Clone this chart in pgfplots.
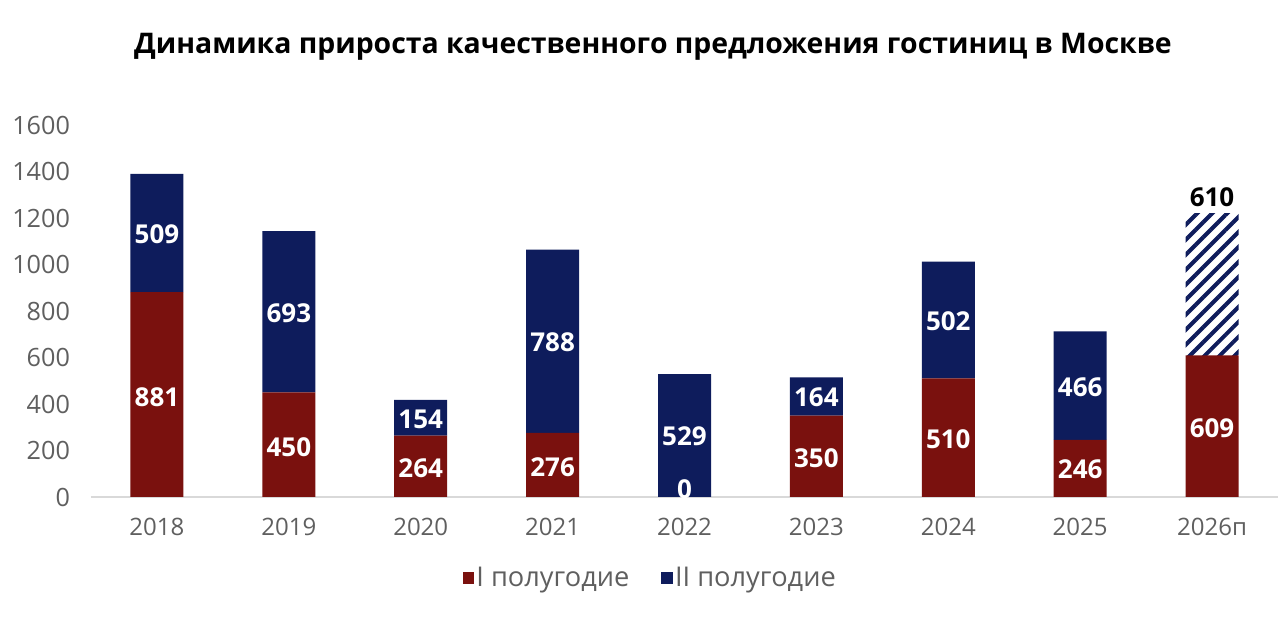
\documentclass[border=0pt]{standalone}
\usepackage{pgfplots}
\pgfplotsset{compat=1.18}
\usepackage{fontspec}
\setmainfont{Open Sans}
\usetikzlibrary{patterns.meta}
\definecolor{cred}{RGB}{122,17,14}
\definecolor{cnavy}{RGB}{14,28,92}
\definecolor{tgray}{RGB}{95,95,95}
\begin{document}
\begin{tikzpicture}
\useasboundingbox (0,0) rectangle (640pt,315.5pt);
\node[font=\bfseries\fontsize{14.2}{16}\selectfont] at (326.5pt,292pt) {Динамика прироста качественного предложения гостиниц в Москве};
\begin{axis}[
  at={(45.5pt,67pt)}, anchor=south west,
  scale only axis, width=593.5pt, height=186pt,
  xmin=-0.5, xmax=8.5, ymin=0, ymax=1600,
  ybar stacked, bar width=26.5pt,
  axis x line=bottom, axis y line=left,
  x axis line style={draw=black!15, line width=0.9pt, -},
  y axis line style={draw=none},
  xtick={0,...,8},
  xticklabels={2018,2019,2020,2021,2022,2023,2024,2025,2026п},
  ytick={0,200,...,1600},
  major tick length=0pt,
  /pgf/number format/assume math mode=true,
  /pgf/number format/1000 sep={},
  ticklabel style={font=\fontsize{12}{14}\selectfont, text=tgray},
  yticklabel style={font=\fontsize{12.6}{14}\selectfont, xshift=-7pt},
  xticklabel style={yshift=-7pt},
  legend style={at={(0.472,-0.218)}, anchor=center, draw=none, fill=none,
    legend columns=2, font=\fontsize{13.6}{15}\selectfont, text=tgray,
    /tikz/every odd column/.append style={column sep=-1pt},
    /tikz/every even column/.append style={column sep=14pt}},
  legend cell align=left,
  legend image code/.code={\fill[#1] (0pt,-3pt) rectangle (5.8pt,3pt);},
]
\addplot[fill=cred, draw=none] coordinates {(0,881) (1,450) (2,264) (3,276) (4,0) (5,350) (6,510) (7,246) (8,609)};
\addlegendentry{I полугодие}
\addplot[fill=cnavy, draw=none] coordinates {(0,509) (1,693) (2,154) (3,788) (4,529) (5,164) (6,502) (7,466) (8,0)};
\addlegendentry{II полугодие}
\addplot[draw=none, forget plot, pattern={Lines[angle=45,distance=5.3pt,line width=2pt]}, pattern color=cnavy] coordinates {(0,0) (1,0) (2,0) (3,0) (4,0) (5,0) (6,0) (7,0) (8,610)};
\end{axis}
\begin{axis}[
  at={(45.5pt,67pt)}, anchor=south west,
  scale only axis, width=593.5pt, height=186pt,
  xmin=-0.5, xmax=8.5, ymin=0, ymax=1600,
  hide axis, clip=false,
  point meta=explicit symbolic,
  nodes near coords,
  nodes near coords style={anchor=center, font=\bfseries\fontsize{13}{15}\selectfont, text=white},
]
\addplot[only marks, mark=none] table[meta=lab] {
x y lab
0 430 881
0 1130 509
1 215 450
1 790 693
2 125 264
2 335 154
3 130 276
3 665 788
4 33 0
4 260 529
5 168 350
5 427 164
6 250 510
6 756 502
7 118 246
7 474 466
8 298 609
};
\addplot[only marks, mark=none, nodes near coords style={text=black}] table[meta=lab] {
x y lab
8 1290 610
};
\end{axis}
\end{tikzpicture}
\end{document}
